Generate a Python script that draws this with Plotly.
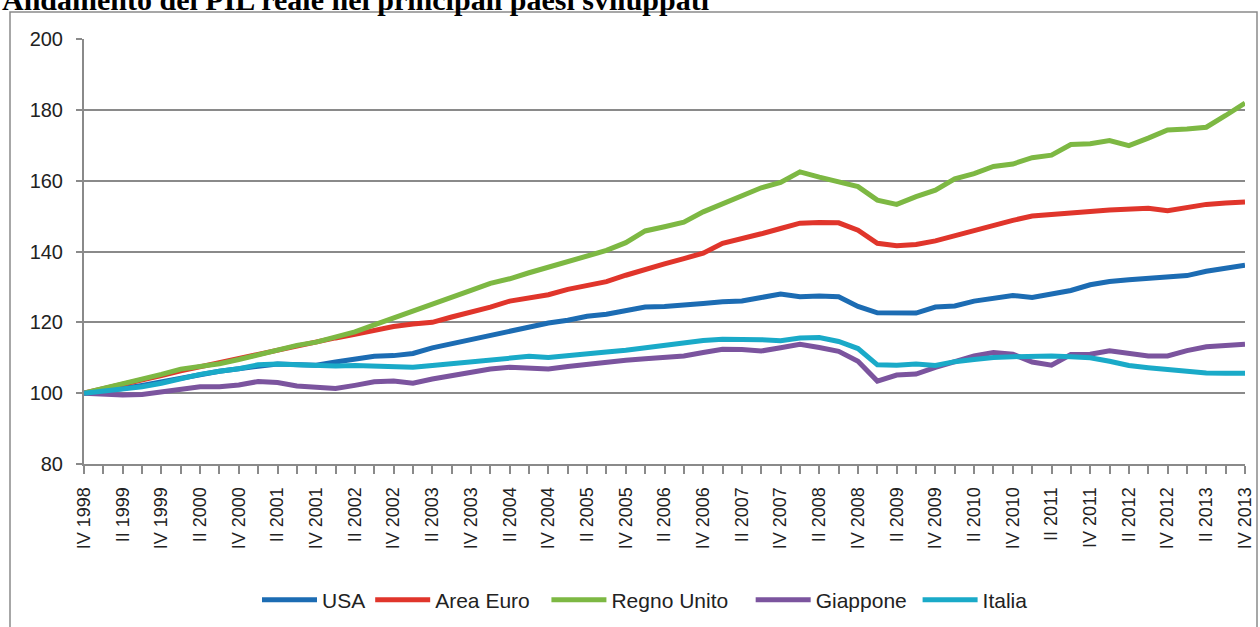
import plotly.graph_objects as go

quarters = [
    "IV 1998",
    "I 1999", "II 1999", "III 1999", "IV 1999",
    "I 2000", "II 2000", "III 2000", "IV 2000",
    "I 2001", "II 2001", "III 2001", "IV 2001",
    "I 2002", "II 2002", "III 2002", "IV 2002",
    "I 2003", "II 2003", "III 2003", "IV 2003",
    "I 2004", "II 2004", "III 2004", "IV 2004",
    "I 2005", "II 2005", "III 2005", "IV 2005",
    "I 2006", "II 2006", "III 2006", "IV 2006",
    "I 2007", "II 2007", "III 2007", "IV 2007",
    "I 2008", "II 2008", "III 2008", "IV 2008",
    "I 2009", "II 2009", "III 2009", "IV 2009",
    "I 2010", "II 2010", "III 2010", "IV 2010",
    "I 2011", "II 2011", "III 2011", "IV 2011",
    "I 2012", "II 2012", "III 2012", "IV 2012",
    "I 2013", "II 2013", "III 2013", "IV 2013",
]

usa = [100, 100.5, 101.3, 102.2, 103.3, 104.2, 105.2, 106.2, 107.0, 107.6,
       108.2, 108.0, 107.9, 108.8, 109.6, 110.4, 110.6, 111.2, 112.8, 114.0,
       115.2, 116.3, 117.3, 118.6, 119.8, 120.6, 121.7, 122.3, 123.2, 124.3,
       124.5, 124.8, 125.3, 125.8, 126.0, 127.0, 128.0, 127.2, 127.4, 127.2,
       124.5, 122.7, 122.6, 122.6, 124.3, 124.6, 126.0, 126.8, 127.6, 127.0,
       128.0, 129.0, 130.6, 131.5, 132.0, 132.4, 132.6, 133.2, 134.4, 135.3, 136.1]

area_euro = [100, 101.2, 102.3, 103.5, 105.0, 106.3, 107.5, 108.7, 109.8, 111.0,
             112.3, 113.5, 114.6, 115.6, 116.6, 117.8, 118.8, 119.5, 120.0, 121.5,
             122.8, 124.3, 126.0, 127.0, 127.8, 129.3, 130.3, 131.5, 133.3, 135.0,
             136.5, 138.0, 139.5, 142.3, 143.5, 145.0, 146.5, 148.0, 148.2, 148.1,
             146.0, 142.3, 141.6, 142.0, 143.0, 144.5, 145.8, 147.3, 148.8, 150.0,
             150.5, 151.1, 151.3, 151.7, 151.9, 152.2, 151.5, 152.4, 153.3, 153.7, 154.0]

regno_unito = [100, 101.3, 102.5, 103.8, 105.3, 106.8, 107.6, 108.3, 109.5, 110.8,
               112.2, 113.5, 114.4, 115.8, 117.3, 119.3, 121.2, 123.0, 124.9, 127.0,
               129.0, 131.0, 132.3, 134.0, 135.5, 137.2, 138.5, 140.3, 142.5, 145.8,
               147.0, 148.3, 151.2, 153.5, 155.5, 158.0, 159.5, 162.5, 161.0, 159.8,
               158.3, 154.5, 153.3, 155.5, 157.3, 160.5, 162.0, 164.0, 164.7, 166.5,
               167.2, 170.2, 170.4, 171.3, 169.9, 172.0, 174.3, 174.6, 175.1, 178.4, 181.9]

giappone = [100, 99.7, 99.5, 99.6, 100.3, 101.2, 101.8, 101.8, 102.3, 103.3,
            103.0, 102.0, 101.5, 101.3, 102.2, 103.2, 103.4, 102.8, 104.0, 105.0,
            106.0, 106.8, 107.3, 107.0, 106.8, 107.5, 108.2, 108.8, 109.3, 109.7,
            110.0, 110.5, 111.5, 112.4, 112.3, 111.9, 112.8, 113.8, 112.9, 111.8,
            109.0, 103.4, 105.1, 105.4, 107.3, 109.0, 110.5, 111.5, 111.0, 108.8,
            107.9, 110.9, 111.0, 112.0, 111.3, 110.5, 110.5, 112.0, 113.1, 113.3, 113.8]

italia = [100, 100.5, 101.0, 101.8, 102.8, 104.2, 105.3, 106.2, 106.9, 108.0,
          108.2, 108.0, 107.7, 107.7, 107.8, 107.7, 107.6, 107.3, 107.8, 108.3,
          109.0, 109.3, 109.8, 110.4, 110.1, 110.5, 111.0, 111.6, 112.1, 112.8,
          113.6, 114.4, 114.9, 115.2, 115.3, 115.1, 114.8, 115.6, 115.7, 114.6,
          112.6, 108.0, 107.9, 108.2, 107.8, 108.9, 109.5, 110.1, 110.3, 110.5,
          110.5, 110.3, 110.0, 109.0, 107.8, 107.2, 106.6, 106.0, 105.7, 105.6, 105.6]

series_names = ["USA", "Area Euro", "Regno Unito", "Giappone", "Italia"]
series_values = [usa, area_euro, regno_unito, giappone, italia]
series_colors = ["#1C6CB3", "#E0352B", "#7DB843", "#7B549E", "#1AAAC8"]
# extra legend spacing after each label (non-breaking spaces)
legend_pad = [0, 2, 3, 1, 0]

tick_text = [q if i % 2 == 0 else "" for i, q in enumerate(quarters)]

W, H = 1260, 627
L, R, T, B = 84, 15, 39, 163
pw = W - L - R
ph = H - T - B

def px_x(x):
    return (x - L) / pw

def px_y(y):
    return (H - B - y) / ph

fig = go.Figure()
for name, vals, col, pad in zip(series_names, series_values, series_colors, legend_pad):
    fig.add_trace(go.Scatter(x=quarters, y=vals, name=name + "\u00a0" * pad, mode="lines",
                             line=dict(color=col, width=5)))

grid = "#8a8a8a"
fig.update_layout(
    width=W, height=H,
    margin=dict(l=L, r=R, t=T, b=B, autoexpand=False),
    paper_bgcolor="white", plot_bgcolor="white",
    font=dict(family="Liberation Sans, Arial, sans-serif", color="#222222"),
    showlegend=True,
    legend=dict(orientation="h", xref="container", yref="container",
                x=257 / W, y=1 - 600 / H, xanchor="left", yanchor="middle",
                font=dict(size=21, family="Liberation Sans, Arial"),
                itemwidth=55, bgcolor="rgba(0,0,0,0)"),
    xaxis=dict(type="category", range=[0, len(quarters) - 1],
               tickmode="array", tickvals=quarters, ticktext=tick_text,
               tickangle=-90, tickfont=dict(size=18),
               ticks="outside", ticklen=8, tickwidth=1.5, tickcolor=grid,
               showline=True, linecolor=grid, linewidth=2,
               showgrid=False, zeroline=False, ticklabelstandoff=6),
    yaxis=dict(range=[80, 200], tick0=80, dtick=20,
               tickfont=dict(size=20),
               ticks="outside", ticklen=6, tickwidth=2, tickcolor=grid,
               showline=True, linecolor=grid, linewidth=2,
               showgrid=True, gridcolor=grid, gridwidth=2,
               zeroline=False, ticklabelstandoff=9),
)

fig.add_shape(type="rect", xref="paper", yref="paper",
              x0=px_x(10), x1=px_x(1257), y0=px_y(660), y1=px_y(12),
              line=dict(color="#8a8a8a", width=1.5), fillcolor="rgba(0,0,0,0)", layer="below")

fig.add_annotation(text="<b>Andamento del PIL reale nei principali paesi sviluppati</b>",
                   xref="paper", yref="paper", x=px_x(0), y=px_y(18),
                   xanchor="left", yanchor="bottom", showarrow=False,
                   font=dict(family="Liberation Serif, Times New Roman, serif", size=30, color="#000"))

fig.write_html("out.html", config={"displayModeBar": False},
               post_script="document.body.style.margin='0';document.body.style.overflow='hidden';")
